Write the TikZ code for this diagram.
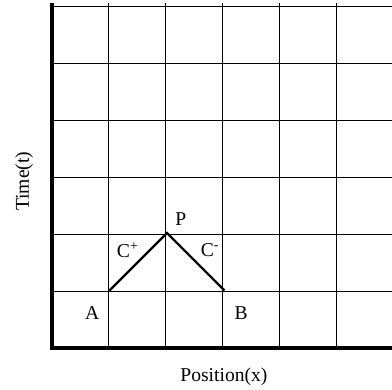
\documentclass[tikz,border=0pt]{standalone}
\usepackage{fontspec}
\setmainfont{Liberation Serif}
\usepackage{tikz}

\begin{document}
\begin{tikzpicture}[x=28.75pt,y=28.75pt,font=\fontsize{9.8pt}{11pt}\selectfont,
 gridline/.style={line width=0.5pt},
 axis/.style={line width=1.6pt},
 charline/.style={line width=1.1pt},
 lbl/.style={inner sep=0pt}]
\useasboundingbox (-0.904,-0.713) rectangle (5.913,6.052);
\clip (-0.904,-0.713) rectangle (5.913,6.052);
% mesh
\draw[gridline] (0,0) grid (6,6);
\draw[axis] (0,6) -- (0,0) -- (6,0);
% characteristics through P
\coordinate (A) at (1,1);
\coordinate (P) at (2,2);
\coordinate (B) at (3,1);
\draw[charline] (A) -- (P) -- (B);
\node[lbl] (labA) at (0.70,0.61) {A};
\node[lbl] (labB) at (3.29,0.61) {B};
\node[lbl] (labP) at (2.24,2.25) {P};
\node[lbl] (cplus) at (1.32,1.70) {C\textsuperscript{+}};
\node[lbl] (cminus) at (2.75,1.70) {C\textsuperscript{-}};
% axis titles
\node[lbl,anchor=base] (xlab) at (2.99,-0.59) {Position(x)};
\node[lbl,anchor=base,rotate=90] (tlab) at (-0.40,2.90) {Time(t)};
\end{tikzpicture}
\end{document}
